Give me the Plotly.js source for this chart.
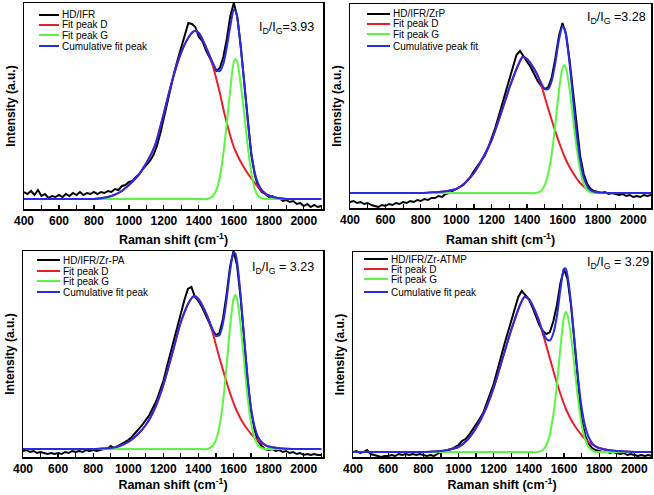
<!DOCTYPE html>
<html><head><meta charset="utf-8">
<script src="https://cdn.plot.ly/plotly-3.0.1.min.js"></script>
<style>html,body{margin:0;padding:0;background:#fff}#chart{width:654px;height:495px}</style>
</head><body><div id="chart"></div>
<script>
// ---------- data ----------
const rawShift = [400,420,440,460,480,500,520,540,560,580,600,620,640,660,680,700,720,740,760,780,800,820,840,860,880,900,920,940,960,980,1000,1020,1040,1060,1080,1100,1120,1140,1160,1180,1200,1220,1240,1260,1280,1300,1320,1340,1360,1380,1400,1420,1440,1460,1480,1500,1520,1540,1560,1580,1600,1620,1640,1660,1680,1700,1720,1740,1760,1780,1800,1820,1840,1860,1880,1900,1920,1940,1960,1980,2000,2020,2040,2060,2080,2100];
const fitShift = [400,700,800,850,900,950,1000,1050,1100,1150,1200,1250,1300,1350,1375,1400,1450,1480,1500,1520,1540,1560,1580,1600,1610,1620,1640,1660,1680,1700,1720,1740,1760,1780,1800,1850,1900,2000,2100];

const sampleNames = ["HD/IFR","HD/IFR/ZrP","HD/IFR/Zr-PA","HD/IFR/Zr-ATMP"];
const peakDName = "Fit peak D";
const peakGName = "Fit peak G";
const cumulativeNames = ["Cumulative fit peak","Cumulative peak fit","Cumulative fit peak","Cumulative fit peak"];
const ratioValues = ["=3.93"," =3.28"," = 3.23"," = 3.29"];
const tickValues = [400,600,800,1000,1200,1400,1600,1800,2000];
const tickLabels = ["400","600","800","1000","1200","1400","1600","1800","2000"];

// Panel 1: HD/IFR
const raw1 = [17,15,18,14,19,13,15,11,13,12,14,12,15,13,16,14,17,14,16,15,17,15,17,16,18,17,20,19,23,24,27,28,32,35,40,44,48,54,63,76,92,106,122,137,150,162,175,186,185,182,172,168,159,152,144,138,141,152,170,193,206,192,162,124,86,54,34,22,17,15,12,13,10,11,8,9,7,8,5,6,3,5,2,4,2,3];
const peakD1 = [10,10,10,11,13,17,24,33,46,64,96,130,157,174,178,176,158,143,130,116,100,86,73,62,58,54,47,41,35.5,30.5,26,22,18.5,15.5,13.5,11,10,10,10];
const peakG1 = [10,10,10,10,10,10,10,10,10,10,10,10,10,10,10,10,10,13,19,32,55,86,120,147,150,147,124,94,62,36,20,13,10.5,10,10,10,10,10,10];
const cumul1 = [10,10,10,11,13,17,24,33,46,64,96,130,157,174,178,176,158,146,139,138,145,162,183,199,198,191,161,125,87.5,56.5,36,25,19,15.5,13.5,11,10,10,10];

// Panel 2: HD/IFR/ZrP
const raw2 = [6,7,5,6,4,5,3,2,1,3,2,4,3,5,4,6,5,7,6,8,7,9,8,10,10,12,11,14,15,17,19,21,23,27,31,37,42,46,52,60,69,80,92,104,117,129,142,153,157,152,147,141,134,127,122,119,121,131,150,172,185,174,148,114,80,52,34,24,19,17,16,15,16,14,15,14,13,14,12,13,11,12,11,13,12,13];
const peakD2 = [15,15,15,15.5,16,17,19,25,35,50,68,93,120,143,151,149,136,123,111,99,87.5,76.5,66,56.5,52,48,41,35,29.5,25,21.5,19,17.3,16.2,15.6,15,15,15,15];
const peakG2 = [15,15,15,15,15,15,15,15,15,15,15,15,15,15,15,15,15,17,23,35,55,84,117,140,143,140,119,89,60,38,24,18,15.5,15,15,15,15,15,15];
const cumul2 = [15,15,15,15.5,16,17,19,25,35,50,68,93,120,143,151,149,136,125,119,119,127.5,145.5,168,181.5,180,173,145,109,74.5,48,30.5,22,17.8,16.2,15.6,15,15,15,15];

// Panel 3: HD/IFR/Zr-PA
const raw3 = [6,7,5,6,4,5,4,3,4,3,4,3,5,4,6,5,6,5,7,6,7,6,7,8,8,11,9,11,13,15,17,20,24,27,32,37,42,49,56,66,76,90,104,117,131,144,157,168,170,160,156,150,143,135,127,122,124,138,162,190,206,192,160,118,78,46,27,16,11,8,7,8,6,7,5,6,4,5,3,4,2,3,2,3,2,2];
const peakD3 = [8,8,8,8.5,9,11,15,22,32,48,72,103,135,156,161,158,141,125,112,99,87,75,64,54,49.5,45.5,38.5,32.5,27.5,23,19.5,16.5,14,12,10.5,9,8.3,8,8];
const peakG3 = [8,8,8,8,8,8,8,8,8,8,8,8,8,8,8,8,8,11,17,31,55,90,130,158,162,158,132,96,60,34,19,11.5,9,8,8,8,8,8,8];
const cumul3 = [8,8,8,8.5,9,11,15,22,32,48,72,103,135,156,161,158,141,128,121,122,134,157,186,204,203.5,195.5,162.5,120.5,79.5,49,30.5,20,15,12,10.5,9,8.3,8,8];

// Panel 4: HD/IFR/Zr-ATMP
const raw4 = [5,6,4,5,7,3,2,1,0,1,1,2,1,3,2,3,2,3,2,3,2,1,2,1,3,5,6,7,8,10,12,16,18,22,27,32,38,44,53,62,73,86,100,112,124,136,148,160,166,162,158,150,140,132,126,123,125,136,152,174,188,178,152,114,74,38,22,13,9,7,6,5,6,4,5,4,3,4,2,3,2,1,2,1,2,1];
const peakD4 = [5,5,5,5.5,6,7.5,10,17,29,46,69,98,127,152,160,158,140,123,111,98.5,86,74,63,53,48.5,44.5,37.5,31.5,26.5,22,18,15,12.5,10.5,9,7,6,5,5];
const peakG4 = [5,5,5,5,5,5,5,5,5,5,5,5,5,5,5,5,5,7,12,23,43,72,110,140,145,142,121,90,58,33,18,10,6.5,5,5,5,5,5,5];
const cumul4 = [5,5,5,5.5,6,7.5,10,17,29,46,69,98,127,152,160,158,140,125,118,116.5,124,141,168,188,188.5,181.5,153.5,116.5,79.5,50,31,20,14,10.5,9,7,6,5,5];

// ---------- styling / layout ----------
const W = 654, H = 495;
const colors = {raw:'#000000', d:'#e5202b', g:'#5cf542', c:'#2a2ae3'};
const FONT = 'Liberation Sans, Arial, sans-serif';
// panel boxes in pixels: [left, right, top, bottom]
const boxes = [[24,323,3,209],[350,651,4,208],[23,323,251,457],[353,651,252,457]];
const xRanges = [[400,2110],[400,2100],[400,2110],[400,2095]];
const yRanges = [[0,206],[0,204],[0,206],[0,205]];
const xTitleStandoff = [8,9,5,5];
const legendPos = [ // lineStart, lineEnd, textX, rows y
  [39,59,61,[15,25,35,46]],
  [367,390,392,[14,24,34,46]],
  [37,60,62,[260,271,281,292]],
  [364,388,390,[259,269,279,292]]
];
const ratioPos = [[258,28],[586,18],[251,268],[586,263]];

const raws = [raw1,raw2,raw3,raw4];
const Ds = [peakD1,peakD2,peakD3,peakD4];
const Gs = [peakG1,peakG2,peakG3,peakG4];
const Cs = [cumul1,cumul2,cumul3,cumul4];

const px = v => v / W;
const py = v => 1 - v / H;

const traces = [];
const layout = {
  width: W, height: H,
  margin: {l:0, r:0, t:0, b:0},
  paper_bgcolor: '#ffffff', plot_bgcolor: '#ffffff',
  showlegend: false,
  font: {family: FONT, color: '#000'},
  annotations: [], shapes: []
};

for (let i = 0; i < 4; i++) {
  const s = i === 0 ? '' : String(i + 1);
  const xa = 'x' + s, ya = 'y' + s;
  const smooth = {shape: 'spline', smoothing: 0.7, width: 2};
  traces.push({x: rawShift, y: raws[i], xaxis: xa, yaxis: ya, type: 'scatter', mode: 'lines', name: sampleNames[i], line: {color: colors.raw, width: 2}});
  traces.push({x: fitShift, y: Ds[i], xaxis: xa, yaxis: ya, type: 'scatter', mode: 'lines', name: peakDName, line: Object.assign({color: colors.d}, smooth)});
  traces.push({x: fitShift, y: Gs[i], xaxis: xa, yaxis: ya, type: 'scatter', mode: 'lines', name: peakGName, line: Object.assign({color: colors.g}, smooth)});
  traces.push({x: fitShift, y: Cs[i], xaxis: xa, yaxis: ya, type: 'scatter', mode: 'lines', name: cumulativeNames[i], line: Object.assign({color: colors.c}, smooth)});

  const b = boxes[i];
  layout['xaxis' + s] = {
    domain: [px(b[0]), px(b[1])], anchor: ya, range: xRanges[i],
    showline: true, mirror: true, linecolor: '#000', linewidth: 1.5,
    showgrid: false, zeroline: false,
    tickmode: 'array', tickvals: tickValues, ticktext: tickLabels,
    ticks: 'inside', ticklen: 4, tickwidth: 1.2, tickcolor: '#000',
    minor: {dtick: 100, tick0: 400, ticks: 'inside', ticklen: 4, tickwidth: 1.2, tickcolor: '#000', showgrid: false},
    tickfont: {family: FONT, size: 12, weight: 700, color: '#000'},
    title: {text: 'Raman shift (cm<sup>-1</sup>)', standoff: xTitleStandoff[i], font: {family: FONT, size: 12.5, weight: 700, color: '#000'}},
    fixedrange: true
  };
  layout['yaxis' + s] = {
    domain: [py(b[3]), py(b[2])], anchor: xa, range: yRanges[i],
    showline: true, mirror: true, linecolor: '#000', linewidth: 1.5,
    showgrid: false, zeroline: false, showticklabels: false, ticks: '',
    title: {text: 'Intensity (a.u.)', standoff: 4, font: {family: FONT, size: 12, weight: 700, color: '#000'}},
    fixedrange: true
  };

  // hand-drawn legend (compact rows like the original)
  const lp = legendPos[i];
  const names = [sampleNames[i], peakDName, peakGName, cumulativeNames[i]];
  const cols = [colors.raw, colors.d, colors.g, colors.c];
  for (let k = 0; k < 4; k++) {
    layout.shapes.push({type: 'line', xref: 'paper', yref: 'paper',
      x0: px(lp[0]), x1: px(lp[1]), y0: py(lp[3][k]), y1: py(lp[3][k]),
      line: {color: cols[k], width: 2}});
    layout.annotations.push({xref: 'paper', yref: 'paper', x: px(lp[2]), y: py(lp[3][k]),
      xanchor: 'left', yanchor: 'middle', showarrow: false, text: names[k],
      font: {family: FONT, size: 10, color: '#000'}, borderpad: 0});
  }
  const rp = ratioPos[i];
  layout.annotations.push({xref: 'paper', yref: 'paper', x: px(rp[0]), y: py(rp[1]),
    xanchor: 'left', yanchor: 'middle', showarrow: false,
    text: 'I<sub>D</sub>/I<sub>G</sub>' + ratioValues[i],
    font: {family: FONT, size: 12.5, color: '#000'}, borderpad: 0});
}

Plotly.newPlot('chart', traces, layout, {staticPlot: true, displayModeBar: false});
</script></body></html>
